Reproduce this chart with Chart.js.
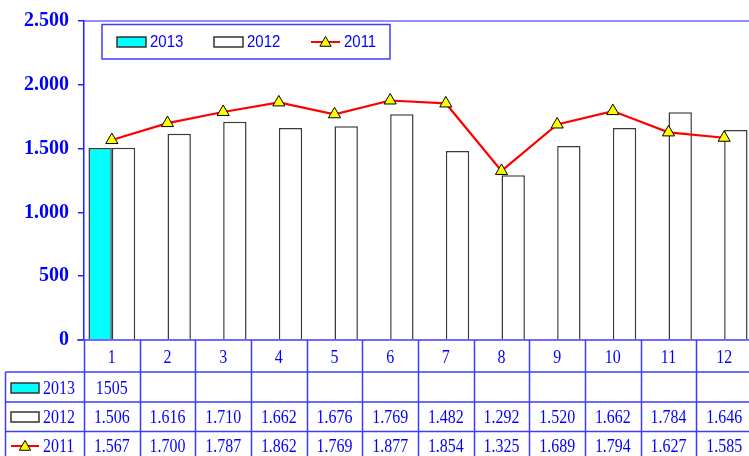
<!DOCTYPE html>
<html>
<head>
<meta charset="utf-8">
<script src="https://cdn.jsdelivr.net/npm/chart.js@4.4.1/dist/chart.umd.min.js"></script>
<style>
html,body{margin:0;padding:0;overflow:hidden;background:#fff;}
#wrap{width:760px;height:456px;}
</style>
</head>
<body>
<div id="wrap"><canvas id="c" width="760" height="456"></canvas></div>
<script>
const categories = ['1','2','3','4','5','6','7','8','9','10','11','12'];
const series2013 = [1505, null, null, null, null, null, null, null, null, null, null, null];
const series2012 = [1506, 1616, 1710, 1662, 1676, 1769, 1482, 1292, 1520, 1662, 1784, 1646];
const series2011 = [1567, 1700, 1787, 1862, 1769, 1877, 1854, 1325, 1689, 1794, 1627, 1585];
const yTicks = [0, 500, 1000, 1500, 2000, 2500];

const BLUE = '#0000ff';
const LINE_BLUE = '#3c3cff';

function fmt(n) {
  if (n >= 1000) return Math.floor(n / 1000) + '.' + String(n % 1000).padStart(3, '0');
  return String(n);
}

function textScaled(ctx, t, x, y, sx, align) {
  ctx.save();
  ctx.translate(x, y);
  ctx.scale(sx, 1);
  ctx.textAlign = align;
  ctx.fillText(t, 0, 0);
  ctx.restore();
}

function drawSwatch(ctx, ds, x, y, w, h) {
  if (ds.type === 'line') {
    ctx.save();
    ctx.strokeStyle = ds.borderColor;
    ctx.lineWidth = 2;
    ctx.beginPath();
    ctx.moveTo(x, y + h / 2);
    ctx.lineTo(x + w, y + h / 2);
    ctx.stroke();
    const cx = x + w / 2, cy = y + h / 2 + 1, r = 6.5;
    ctx.fillStyle = ds.pointBackgroundColor;
    ctx.strokeStyle = ds.pointBorderColor;
    ctx.lineWidth = 1;
    ctx.beginPath();
    ctx.moveTo(cx, cy - r);
    ctx.lineTo(cx + r * 0.866, cy + r * 0.5);
    ctx.lineTo(cx - r * 0.866, cy + r * 0.5);
    ctx.closePath();
    ctx.fill();
    ctx.stroke();
    ctx.restore();
  } else {
    ctx.save();
    ctx.fillStyle = ds.backgroundColor;
    ctx.strokeStyle = '#333';
    ctx.lineWidth = 1.5;
    ctx.fillRect(x, y, w, h);
    ctx.strokeRect(x, y, w, h);
    ctx.restore();
  }
}

const tablePlugin = {
  id: 'dataTable',
  afterDraw(chart) {
    const ctx = chart.ctx;
    const ca = chart.chartArea;
    const xs = chart.scales.x;
    const W = chart.width;
    const H = chart.height;
    const n = categories.length;
    const half = (ca.right - ca.left) / n / 2;
    const tableLeft = 5.5;
    const rowLines = [ca.bottom, ca.bottom + 32, ca.bottom + 62, ca.bottom + 91.5];
    const rowCenters = [ca.bottom + 18, ca.bottom + 49, ca.bottom + 78, ca.bottom + 107];

    ctx.save();
    // top border of plot area
    ctx.strokeStyle = '#6a6aff';
    ctx.lineWidth = 1.5;
    ctx.beginPath();
    ctx.moveTo(ca.left, ca.top);
    ctx.lineTo(W, ca.top);
    ctx.stroke();

    // table lines
    ctx.strokeStyle = LINE_BLUE;
    ctx.lineWidth = 1.5;
    ctx.beginPath();
    ctx.moveTo(ca.left - 7, rowLines[0]);
    ctx.lineTo(W, rowLines[0]);
    for (let k = 1; k < rowLines.length; k++) {
      ctx.moveTo(tableLeft, rowLines[k]);
      ctx.lineTo(W, rowLines[k]);
    }
    ctx.moveTo(tableLeft, rowLines[1]);
    ctx.lineTo(tableLeft, H);
    for (let i = 0; i <= n; i++) {
      const bx = Math.round(xs.getPixelForValue(Math.min(i, n - 1)) + (i === n ? half : -half)) + 0.5;
      ctx.moveTo(bx, ca.bottom);
      ctx.lineTo(bx, H);
    }
    ctx.stroke();

    // texts
    ctx.fillStyle = BLUE;
    ctx.textBaseline = 'middle';
    ctx.font = '19px "Liberation Serif"';
    const SX = 0.84;
    categories.forEach((c, i) => {
      textScaled(ctx, c, xs.getPixelForValue(i), rowCenters[0], SX, 'center');
    });
    const dss = chart.data.datasets;
    const rows = [series2013, series2012, series2011];
    rows.forEach((arr, r) => {
      arr.forEach((v, i) => {
        if (v === null) return;
        const t = r === 0 ? String(v) : fmt(v);
        textScaled(ctx, t, xs.getPixelForValue(i), rowCenters[r + 1], SX, 'center');
      });
      const ds = dss[r];
      drawSwatch(ctx, ds, 11, rowCenters[r + 1] - 6, 28, 10);
      ctx.fillStyle = BLUE;
      textScaled(ctx, ds.label, 43, rowCenters[r + 1], SX, 'left');
    });

    // legend box inside plot
    const lx = 102, ly = 24.5, lw = 288, lh = 34.5;
    ctx.strokeStyle = '#3c3cff';
    ctx.lineWidth = 1.5;
    ctx.strokeRect(lx, ly, lw, lh);
    const itemX = [117, 214, 311];
    ctx.font = '17px "Liberation Sans"';
    dss.forEach((ds, k) => {
      drawSwatch(ctx, ds, itemX[k], 37, 29, 10);
      ctx.fillStyle = BLUE;
      textScaled(ctx, ds.label, itemX[k] + 33, 42, 0.88, 'left');
    });
    ctx.restore();
  }
};

new Chart(document.getElementById('c'), {
  type: 'bar',
  data: {
    labels: categories,
    datasets: [
      { label: '2013', data: series2013, backgroundColor: '#00ffff', borderColor: '#3a3a3a', borderWidth: 1.5,
        categoryPercentage: 0.84, barPercentage: 1.0, order: 2 },
      { label: '2012', data: series2012, backgroundColor: '#ffffff', borderColor: '#3a3a3a', borderWidth: 1.5,
        categoryPercentage: 0.84, barPercentage: 1.0, order: 2 },
      { type: 'line', label: '2011', data: series2011, borderColor: '#ff0000', borderWidth: 2.2,
        pointStyle: 'triangle', pointRadius: 7, pointHoverRadius: 7, pointBackgroundColor: '#ffff00',
        pointBorderColor: '#000000', pointBorderWidth: 1, tension: 0, order: 1, fill: false }
    ]
  },
  options: {
    responsive: false,
    animation: false,
    devicePixelRatio: 1,
    layout: { padding: { left: 0, right: 6, top: 19, bottom: 116 } },
    plugins: { legend: { display: false }, tooltip: { enabled: false } },
    scales: {
      x: { display: false, offset: true },
      y: {
        min: 0, max: 2500,
        afterFit(s) { s.width = 84; },
        afterBuildTicks(s) { s.ticks = yTicks.map(v => ({ value: v })); },
        ticks: {
          padding: 9, color: BLUE,
          font: { family: '"Liberation Serif"', size: 20, weight: 'bold' },
          callback: v => fmt(v)
        },
        grid: { drawOnChartArea: false, drawTicks: true, tickLength: 6, color: '#2020ff', lineWidth: 1.5 },
        border: { display: true, color: '#2020ff', width: 1.5 }
      }
    }
  },
  plugins: [tablePlugin]
});
</script>
</body>
</html>
